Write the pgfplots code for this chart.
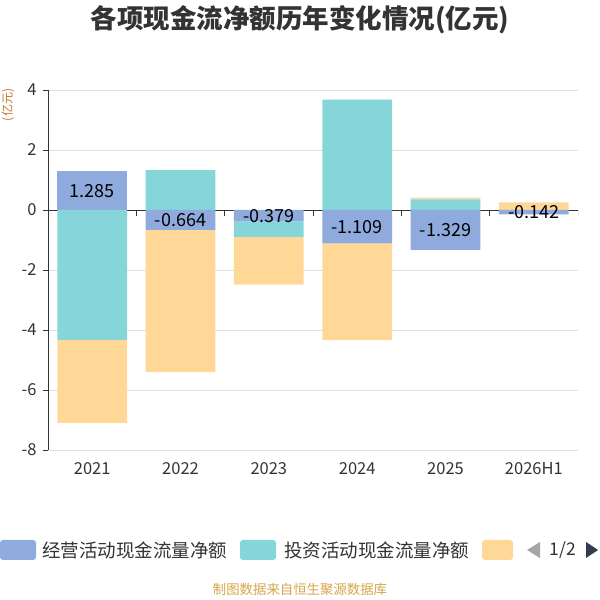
\documentclass[border=0pt]{standalone}
\usepackage{fontspec}
\setmainfont{Noto Sans CJK SC}
\usepackage{pgfplots}
\pgfplotsset{compat=1.18}
\usepackage{pgfplotstable}

\definecolor{cblue}{HTML}{8FAADC}
\definecolor{cteal}{HTML}{86D5D8}
\definecolor{corange}{HTML}{FFD898}
\definecolor{ctext}{HTML}{333333}
\definecolor{cgrid}{HTML}{E0E0E0}
\definecolor{cfoot}{HTML}{D4A64A}
\definecolor{cunit}{HTML}{C0782E}
\definecolor{carrow}{HTML}{2E3D4F}

\pgfplotstableread{
x jy tz cz
0 1.285 -4.33 -2.77
1 -0.664 1.33 -4.74
2 -0.379 -0.52 -1.59
3 -1.109 3.68 -3.22
4 -1.329 0.35 0.06
5 -0.142 0.00 0.25
}\cashdata

\pgfplotsset{
  base/.style={at={(48pt,150pt)}, anchor=south west, scale only axis,
    width=530pt, height=360pt, xmin=-0.5, xmax=5.5, ymin=-8, ymax=4,
    /pgf/number format/assume math mode=true},
  bars/.style={base, hide axis, ybar stacked, bar width=0.79},
}

\begin{document}
\begin{tikzpicture}
\path[use as bounding box] (0,0) rectangle (600pt,600pt);

% base axis: grid, ticks, labels
\begin{axis}[base,
  axis x line*=bottom, axis y line*=left,
  x axis line style={draw=cgrid, line width=0.8pt, -},
  y axis line style={draw=ctext, line width=0.8pt, -},
  xtick={0,1,2,3,4,5},
  xticklabels={2021,2022,2023,2024,2025,2026H1},
  xtick style={draw=none},
  ytick={-8,-6,-4,-2,0,2,4},
  ytick style={draw=ctext, line width=0.8pt},
  tick align=outside, major tick length=5pt,
  ymajorgrids, grid style={cgrid, line width=0.8pt},
  ticklabel style={font=\fontsize{16.5}{18}\selectfont, text=ctext},
  xticklabel style={yshift=-4pt},
  yticklabel style={xshift=-3pt},
]
\draw[ctext, line width=0.8pt] (axis cs:-0.5,0) -- (axis cs:5.5,0);
\pgfplotsinvokeforeach{0.5,1.5,2.5,3.5,4.5,5.5}{
  \draw[ctext, line width=0.8pt] (axis cs:#1,0) -- ([yshift=-6pt]axis cs:#1,0);
}
\end{axis}

% positive stack
\begin{axis}[bars]
\addplot[fill=cblue, draw=none] table[x=x, y expr={max(\thisrow{jy},0)}]{\cashdata};
\addplot[fill=cteal, draw=none] table[x=x, y expr={max(\thisrow{tz},0)}]{\cashdata};
\addplot[fill=corange, draw=none] table[x=x, y expr={max(\thisrow{cz},0)}]{\cashdata};
\end{axis}

% negative stack
\begin{axis}[bars]
\addplot[fill=cblue, draw=none] table[x=x, y expr={min(\thisrow{jy},0)}]{\cashdata};
\addplot[fill=cteal, draw=none] table[x=x, y expr={min(\thisrow{tz},0)}]{\cashdata};
\addplot[fill=corange, draw=none] table[x=x, y expr={min(\thisrow{cz},0)}]{\cashdata};
\end{axis}

% value labels
\begin{axis}[base, hide axis,
  nodes near coords={\pgfmathprintnumber[fixed,fixed zerofill,precision=3]{\pgfplotspointmeta}},
  every node near coord/.style={anchor=center, text=black, font=\fontsize{18}{19}\selectfont},
  point meta=explicit]
\addplot[draw=none, mark=none] table[x=x, y expr={\thisrow{jy}/2}, meta=jy]{\cashdata};
\end{axis}

% title
\node[font=\bfseries\fontsize{26.5}{30}\selectfont, text=ctext] at (300pt,580pt) {各项现金流净额历年变化情况(亿元)};
% unit
\node[rotate=90, font=\fontsize{12}{14}\selectfont, text=cunit] at (8pt,495pt) {(亿元)};

% legend
\fill[cblue, rounded corners=3pt] (0pt,40pt) rectangle (36pt,60pt);
\node[anchor=west, font=\fontsize{18.5}{20}\selectfont, text=ctext, inner sep=0pt] at (42pt,50pt) {经营活动现金流量净额};
\fill[cteal, rounded corners=3pt] (240pt,40pt) rectangle (276pt,60pt);
\node[anchor=west, font=\fontsize{18.5}{20}\selectfont, text=ctext, inner sep=0pt] at (284pt,50pt) {投资活动现金流量净额};
\fill[corange, rounded corners=3pt] (482pt,40pt) rectangle (513pt,60pt);
\fill[gray!70] (527pt,50pt) -- (540pt,58pt) -- (540pt,42pt) -- cycle;
\node[anchor=center, font=\fontsize{17.5}{20}\selectfont, text=ctext, inner sep=0pt] at (563pt,50pt) {1/2};
\fill[carrow] (598pt,50pt) -- (586pt,58pt) -- (586pt,42pt) -- cycle;

% footer
\node[font=\fontsize{13.4}{15}\selectfont, text=cfoot] at (300pt,11pt) {制图数据来自恒生聚源数据库};
\end{tikzpicture}
\end{document}
